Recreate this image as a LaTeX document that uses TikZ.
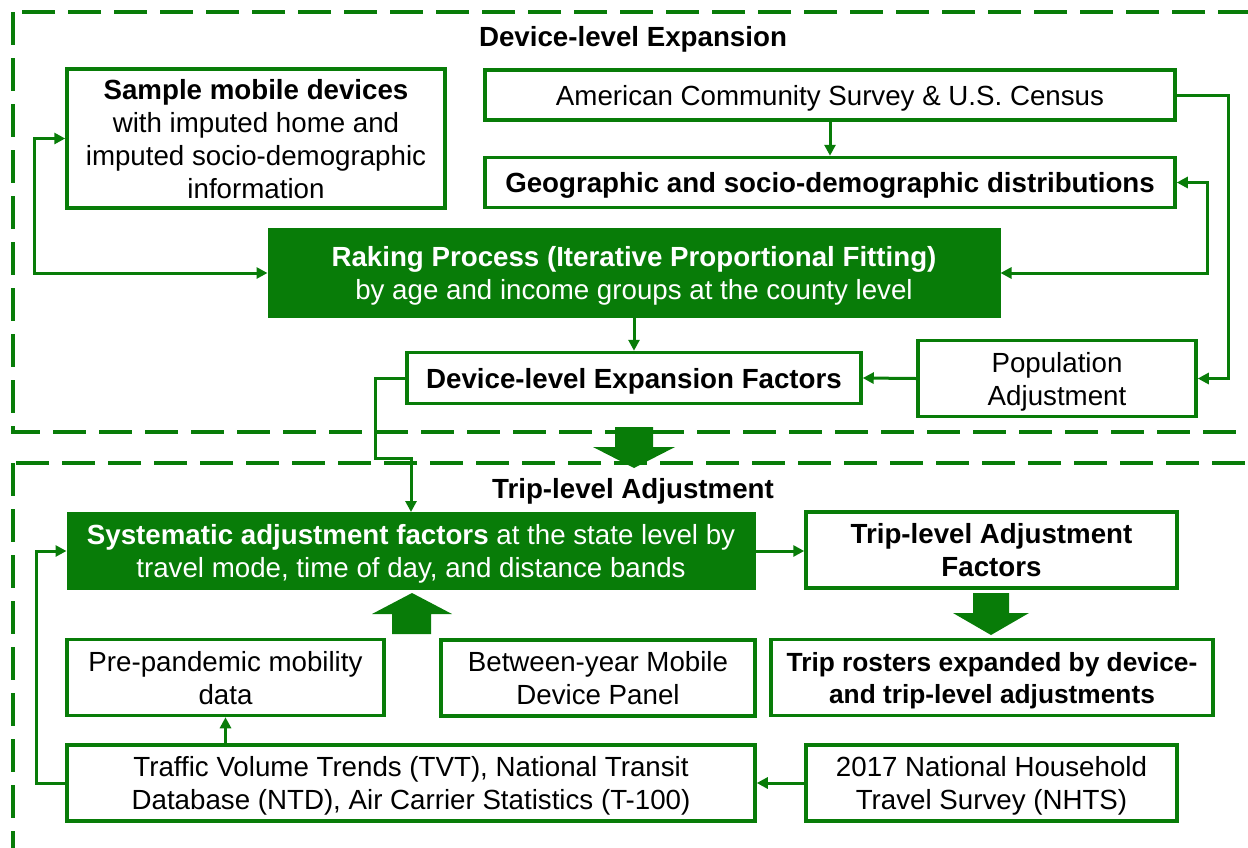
\documentclass[tikz,border=0pt]{standalone}
\usepackage{fontspec}
\setmainfont{Liberation Sans}
\usetikzlibrary{arrows.meta}
\definecolor{dg}{RGB}{8,124,8}

\begin{document}
\begin{tikzpicture}[x=1pt,y=-1pt,
  font=\fontsize{27.7}{33}\selectfont,
  >={Triangle[length=11pt,width=11pt]},
  struts/.style={execute at begin node={\rule{0pt}{26pt}}, execute at end node={\rule[-6pt]{0pt}{6pt}}},
  multi/.style={execute at begin node={\rule{0pt}{#1}}},
  box/.style={draw=dg, line width=3.5pt, fill=white, align=center, inner sep=0pt, text=black, struts},
  solidbox/.style={fill=dg, draw=dg, line width=1pt, align=center, inner sep=0pt, text=white, struts},
  conn/.style={draw=dg, line width=3pt},
  frame/.style={draw=dg, line width=4pt, dash pattern=on 33pt off 13pt},
  blockarrow/.style={fill=dg},
  heading/.style={font=\fontsize{27.7}{33}\selectfont\bfseries, text=black, inner sep=0pt, struts}
]
\useasboundingbox (0,0) rectangle (1248,847);

% section frames (dashed, running off the right and bottom edges)
\begin{scope}
  \clip (0,0) rectangle (1248,847);
  \draw[frame] (13,12) rectangle (1270,432);
  \draw[frame] (13,463) rectangle (1270,880);
\end{scope}

% section headings
\node[heading] (h1) at (633,36) {Device-level Expansion};
\node[heading] (h2) at (633,488) {Trip-level Adjustment};

% ---- device-level expansion ----
\node[box, multi=125pt, minimum width=378pt, minimum height=139pt] (sample) at (256,138.5)
  {{\bfseries Sample mobile devices}\\with imputed home and\\imputed socio-demographic\\information};
\node[box, minimum width=690pt, minimum height=50pt] (acs) at (830,95)
  {American Community Survey \& U.S. Census};
\node[box, minimum width=690pt, minimum height=50pt] (geo) at (830,182.5)
  {\bfseries Geographic and socio-demographic distributions};
\node[solidbox, multi=59pt, minimum width=732pt, minimum height=89pt] (raking) at (634,273)
  {{\bfseries Raking Process (Iterative Proportional Fitting)}\\by age and income groups at the county level};
\node[box, minimum width=454pt, minimum height=51pt] (def) at (634,378)
  {\bfseries Device-level Expansion Factors};
\node[box, multi=59pt, minimum width=278pt, minimum height=76pt] (pop) at (1057,378.5)
  {Population\\Adjustment};

% ---- trip-level adjustment ----
\node[solidbox, multi=59pt, minimum width=688pt, minimum height=77pt] (sys) at (411,551)
  {{\bfseries Systematic adjustment factors} at the state level by\\travel mode, time of day, and distance bands};
\node[box, multi=59pt, minimum width=371pt, minimum height=76pt] (tlaf) at (991.5,550)
  {\bfseries Trip-level Adjustment\\\bfseries Factors};
\node[box, multi=58pt, minimum width=442pt, minimum height=76pt, font=\fontsize{26.3}{32}\selectfont] (rost) at (992,677.5)
  {\bfseries Trip rosters expanded by device-\\\bfseries and trip-level adjustments};
\node[box, multi=59pt, minimum width=317pt, minimum height=76pt] (pre) at (225.5,677.5)
  {Pre-pandemic mobility\\data};
\node[box, multi=59pt, minimum width=314pt, minimum height=76pt] (panel) at (598,678)
  {Between-year Mobile\\Device Panel};
\node[box, multi=59pt, minimum width=688pt, minimum height=76pt] (traffic) at (411,783)
  {Traffic Volume Trends (TVT), National Transit\\Database (NTD), Air Carrier Statistics (T-100)};
\node[box, multi=59pt, minimum width=371pt, minimum height=76pt] (nhts) at (991.5,783)
  {2017 National Household\\Travel Survey (NHTS)};

% connectors, upper section
\draw[conn,<->] (sample.west) -- ++(-31,0) |- (raking.west);
\draw[conn,<->] (geo.east) -- ++(31,0) |- (raking.east);
\draw[conn,->] (acs.east) -- ++(52,0) |- (pop.east);
\draw[conn,->] (acs.south) -- (geo.north);
\draw[conn,->] (raking.south) -- (def.north);
\draw[conn,->] (pop.west) -- (def.east);
\draw[conn,->] (def.west) -- ++(-30,0) -- ++(0,80) -| (sys.north);

% connectors, lower section
\draw[conn,->] (sys.east) -- (sys.east -| tlaf.west);
\draw[conn,->] (traffic.north -| pre.south) -- (pre.south);
\draw[conn,->] (traffic.west) -- ++(-29,0) |- (sys.west);
\draw[conn,->] (nhts.west) -- (nhts.west -| traffic.east);

% block arrows
\fill[blockarrow] (615,427) -- (653,427) -- (653,447) -- (675,447) -- (634,468) -- (593,447) -- (615,447) -- cycle;
\fill[blockarrow] (973,593) -- (1009,593) -- (1009,613) -- (1029,613) -- (991,635) -- (953,613) -- (973,613) -- cycle;
\fill[blockarrow] (392,634) -- (431,634) -- (431,614) -- (452,614) -- (412,593) -- (372,614) -- (392,614) -- cycle;
\end{tikzpicture}
\end{document}
